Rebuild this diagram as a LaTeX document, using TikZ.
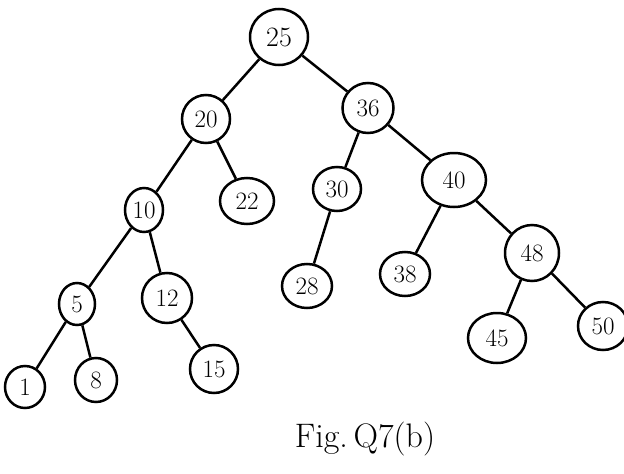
\documentclass[tikz,border=0pt]{standalone}
\usetikzlibrary{shapes.geometric}
\begin{document}
\begin{tikzpicture}[x=1pt,y=-1pt,
  nd/.style={draw, ellipse, line width=2.5pt, inner sep=0pt, font=\fontsize{25}{25}\selectfont},
  edge/.style={line width=2.5pt}]
\useasboundingbox (0,0) rectangle (624,474);
\node[nd, minimum width=58, minimum height=56, font=\fontsize{28}{28}\selectfont] (n25) at (279,37) {25};
\node[nd, minimum width=48, minimum height=48] (n20) at (206,119) {20};
\node[nd, minimum width=51, minimum height=50] (n36) at (368,108) {36};
\node[nd, minimum width=38, minimum height=44] (n10) at (144,210) {10};
\node[nd, minimum width=54, minimum height=46] (n22) at (247,201) {22};
\node[nd, minimum width=48, minimum height=44] (n30) at (337,189) {30};
\node[nd, minimum width=64, minimum height=54] (n40) at (454,180) {40};
\node[nd, minimum width=36, minimum height=42] (n5) at (77,304) {5};
\node[nd, minimum width=50, minimum height=50] (n12) at (167,298) {12};
\node[nd, minimum width=50, minimum height=44] (n28) at (307,286) {28};
\node[nd, minimum width=50, minimum height=44] (n38) at (405,274) {38};
\node[nd, minimum width=54, minimum height=56] (n48) at (532,253) {48};
\node[nd, minimum width=40, minimum height=42] (n1) at (25,387) {1};
\node[nd, minimum width=42, minimum height=44] (n8) at (96,380) {8};
\node[nd, minimum width=48, minimum height=48] (n15) at (214,369) {15};
\node[nd, minimum width=58, minimum height=50] (n45) at (497,338) {45};
\node[nd, minimum width=50, minimum height=48] (n50) at (603,326) {50};
\draw[edge] (n25) -- (n20);
\draw[edge] (n25) -- (n36);
\draw[edge] (n20) -- (n10);
\draw[edge] (n20) -- (n22);
\draw[edge] (n36) -- (n30);
\draw[edge] (n36) -- (n40);
\draw[edge] (n10) -- (n5);
\draw[edge] (n10) -- (n12);
\draw[edge] (n30) -- (n28);
\draw[edge] (n40) -- (n38);
\draw[edge] (n40) -- (n48);
\draw[edge] (n5) -- (n1);
\draw[edge] (n5) -- (n8);
\draw[edge] (n12) -- (n15);
\draw[edge] (n48) -- (n45);
\draw[edge] (n48) -- (n50);
\node[font=\fontsize{34}{34}\selectfont, anchor=base] (cap) at (365,447) {Fig.\,Q7(b)};
\end{tikzpicture}
\end{document}
